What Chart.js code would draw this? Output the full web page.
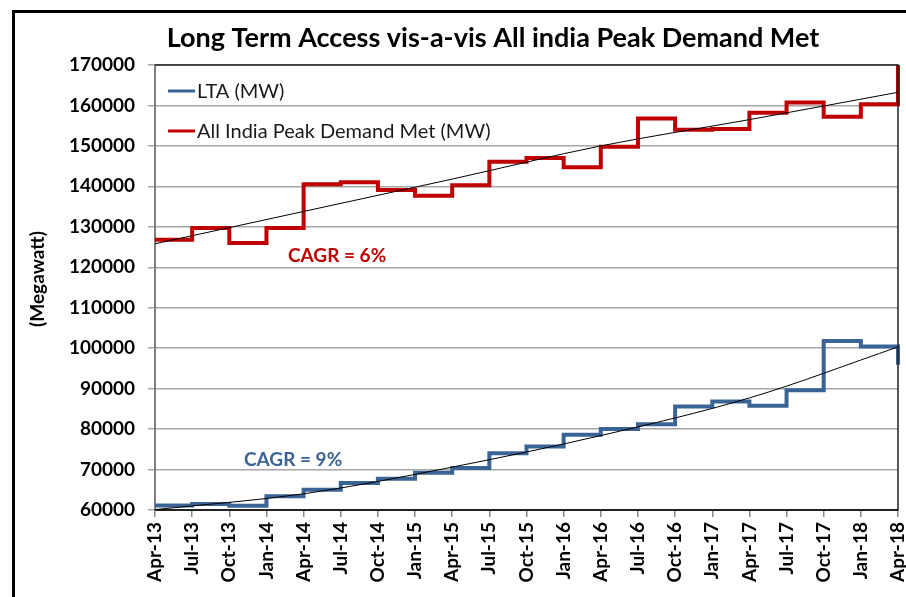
<!DOCTYPE html>
<html>
<head>
<meta charset="utf-8">
<script src="https://cdn.jsdelivr.net/npm/chart.js@4"></script>
<style>
html,body{margin:0;padding:0;background:#fff;}
#wrap{position:relative;width:906px;height:597px;}
</style>
</head>
<body>
<div id="wrap"><canvas id="c" width="906" height="597"></canvas></div>
<script>
const quarters = ['Apr-13','Jul-13','Oct-13','Jan-14','Apr-14','Jul-14','Oct-14','Jan-15','Apr-15','Jul-15','Oct-15','Jan-16','Apr-16','Jul-16','Oct-16','Jan-17','Apr-17','Jul-17','Oct-17','Jan-18','Apr-18'];
const ltaMW = [61100,61500,61050,63400,65000,66700,67700,69200,70400,74000,75700,78600,80000,81200,85600,86800,85800,89600,101800,100400,95900];
const peakDemandMW = [126800,129700,126000,129700,140500,141000,139100,137650,140300,146100,147000,144700,149800,156800,154000,154200,158200,160700,157200,160300,170000];
const trendYears = ['Apr-13','Apr-14','Apr-15','Apr-16','Apr-17','Apr-18'];
const ltaTrend = [60100,64000,70600,78400,87700,100300];
const peakTrend = [125800,133800,141800,150000,156500,163250];
const yTicks = [60000,70000,80000,90000,100000,110000,120000,130000,140000,150000,160000,170000];

const RED = '#C00000';
const BLUE = '#3B6496';
const FONT = 'Lato, "Open Sans", sans-serif';

const trendPts = (vals) => trendYears.map((q, i) => ({x: q, y: vals[i]}));

const decor = {
  id: 'decor',
  beforeDraw(chart) {
    const ctx = chart.ctx;
    ctx.save();
    ctx.fillStyle = '#fff';
    ctx.fillRect(0, 0, chart.width, chart.height);
    ctx.fillStyle = '#000';
    ctx.fillRect(12, 10, 3, chart.height);
    ctx.fillRect(12, 10, chart.width, 3);
    ctx.restore();
  },
  afterDraw(chart) {
    const ctx = chart.ctx;
    const a = chart.chartArea;
    ctx.save();
    ctx.strokeStyle = '#222';
    ctx.lineWidth = 1.5;
    ctx.beginPath();
    ctx.moveTo(a.left, a.top);
    ctx.lineTo(a.right, a.top);
    ctx.lineTo(a.right, a.bottom);
    ctx.stroke();
    ctx.fillStyle = '#000';
    ctx.font = 'bold 27px ' + FONT;
    ctx.textAlign = 'center';
    ctx.textBaseline = 'middle';
    ctx.fillText('Long Term Access vis-a-vis All india Peak Demand Met', 493, 38);
    ctx.save();
    ctx.translate(38, 279);
    ctx.rotate(-Math.PI / 2);
    ctx.font = 'bold 19px ' + FONT;
    ctx.fillText('(Megawatt)', 0, 0);
    ctx.restore();
    const items = [['LTA (MW)', BLUE], ['All India Peak Demand Met (MW)', RED]];
    ctx.font = '20px ' + FONT;
    ctx.textAlign = 'left';
    items.forEach((it, i) => {
      const y = a.top + 26 + i * 40;
      ctx.strokeStyle = it[1];
      ctx.lineWidth = 3;
      ctx.beginPath();
      ctx.moveTo(a.left + 13, y);
      ctx.lineTo(a.left + 40, y);
      ctx.stroke();
      ctx.fillStyle = '#1a1a1a';
      ctx.fillText(it[0], a.left + 42, y + 1);
    });
    ctx.font = 'bold 19px ' + FONT;
    ctx.fillStyle = RED;
    ctx.fillText('CAGR = 6%', 288, 256);
    ctx.fillStyle = BLUE;
    ctx.fillText('CAGR = 9%', 244, 460);
    ctx.restore();
  }
};

new Chart(document.getElementById('c'), {
  type: 'line',
  data: {
    labels: quarters,
    datasets: [
      {label: 'LTA trend', data: trendPts(ltaTrend), borderColor: '#000', borderWidth: 1, pointRadius: 0, cubicInterpolationMode: 'monotone', order: 0},
      {label: 'Peak trend', data: trendPts(peakTrend), borderColor: '#000', borderWidth: 1, pointRadius: 0, cubicInterpolationMode: 'monotone', order: 0},
      {label: 'LTA (MW)', data: ltaMW, borderColor: BLUE, borderWidth: 4, pointRadius: 0, stepped: 'before', order: 2},
      {label: 'All India Peak Demand Met (MW)', data: peakDemandMW, borderColor: RED, borderWidth: 4, pointRadius: 0, stepped: 'before', order: 1}
    ]
  },
  options: {
    responsive: false,
    animation: false,
    layout: {padding: {top: 65, right: 8, left: 0, bottom: 0}},
    plugins: {legend: {display: false}, tooltip: {enabled: false}, title: {display: false}},
    scales: {
      x: {
        type: 'category',
        offset: false,
        grid: {drawOnChartArea: false, drawTicks: true, tickLength: 7, color: '#888', lineWidth: 1.5},
        border: {display: true, color: '#222', width: 2},
        ticks: {autoSkip: false, minRotation: 90, maxRotation: 90, padding: 5, color: '#000', font: {family: FONT, size: 19, weight: 'bold'}},
        afterFit(s) { s.height = 87; s.paddingLeft = 0; s.paddingRight = 0; }
      },
      y: {
        min: 60000,
        max: 170000,
        afterBuildTicks(s) { s.ticks = yTicks.map(v => ({value: v})); },
        grid: {color: '#a6a6a6', lineWidth: 1.5, tickLength: 7, drawTicks: true},
        border: {display: true, color: '#7f7f7f', width: 2},
        ticks: {padding: 13, color: '#000', font: {family: FONT, size: 19, weight: 'bold'}, callback: (v) => String(v)},
        afterFit(s) { s.width = 155; s.paddingTop = 0; s.paddingBottom = 0; }
      }
    }
  },
  plugins: [decor]
});
</script>
</body>
</html>
